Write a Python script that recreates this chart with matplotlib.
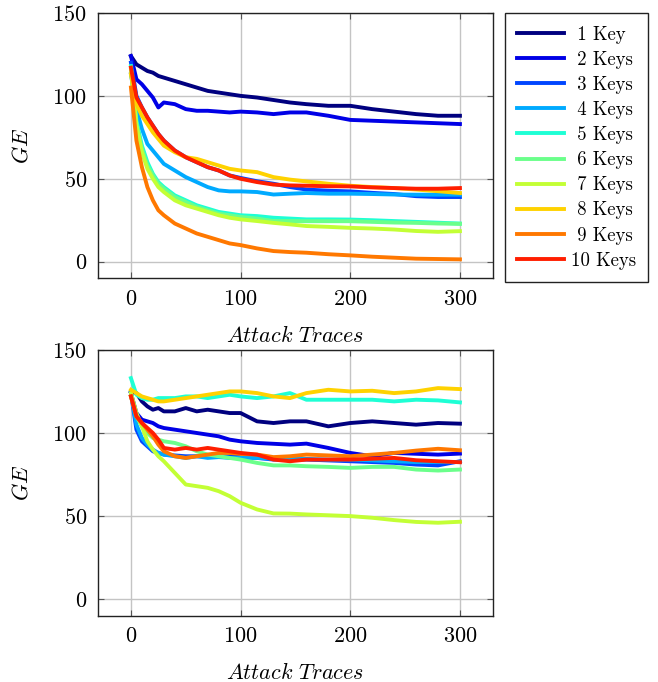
"""
GE vs attack traces, two panels, legend on the right of the top panel.
"""
import numpy as np
import matplotlib
matplotlib.use('Agg')
import matplotlib.pyplot as plt

plt.rcParams['font.family'] = ['cmr10', 'DejaVu Serif']
plt.rcParams['mathtext.fontset'] = 'cm'
plt.rcParams['axes.formatter.use_mathtext'] = True

# attack traces where the curves were read
traces = [0, 5, 10, 15, 20, 25, 30, 40, 50, 60, 70, 80, 90, 100,
          115, 130, 145, 160, 180, 200, 220, 240, 260, 280, 300]

labels = ['1 Key', '2 Keys', '3 Keys', '4 Keys', '5 Keys',
          '6 Keys', '7 Keys', '8 Keys', '9 Keys', '10 Keys']
# a leading space so the legend text looks centred like pgfplots
legend_labels = [' 1 Key', ' 2 Keys', ' 3 Keys', ' 4 Keys', ' 5 Keys',
                 ' 6 Keys', ' 7 Keys', ' 8 Keys', ' 9 Keys', '10 Keys']

COLORS = ['#00007F', '#0000E6', '#0045FF', '#00AAFF', '#1EFFD5',
          '#6BFF8B', '#C3FF35', '#FFD200', '#FF7800', '#FF1E00']

# top panel
ge_top = {
    '1 Key':   [124, 119, 117, 115, 114, 112, 111, 109, 107, 105, 103, 102, 101, 100,
                99, 97.5, 96, 95, 94, 94, 92, 90.5, 89, 88, 88],
    '2 Keys':  [124, 110, 107, 103, 99, 93, 96, 95, 92, 91, 91, 90.5, 90, 90.5,
                90, 89, 90, 90, 88, 85.5, 85, 84.5, 84, 83.5, 83],
    '3 Keys':  [120, 100, 93, 87, 82, 77, 73, 67, 63, 60, 57, 55, 52, 50.5,
                48.5, 47, 45, 43.5, 42.8, 42.4, 41.5, 40.8, 39.5, 39, 39],
    '4 Keys':  [113, 92, 80, 71, 67, 63, 59, 55, 51, 48, 45, 43, 42.4, 42.4,
                42, 40.5, 41, 41.4, 41, 41, 40.8, 40.5, 40.4, 40.4, 40.4],
    '5 Keys':  [118, 85, 70, 60, 53, 48, 45, 40, 37, 34, 32, 30, 29, 28,
                27.5, 26.5, 26, 25.5, 25.5, 25.4, 25, 24.5, 24, 23.5, 23],
    '6 Keys':  [117, 83, 68, 58, 52, 47, 44, 39, 36, 33, 31, 29, 28, 27,
                26, 24.5, 24.5, 24.4, 24.4, 24.4, 24, 23.6, 23.4, 23, 22.8],
    '7 Keys':  [116, 82, 66, 56, 50, 45, 42, 37, 34, 32, 30, 28, 26.5, 25.5,
                24.5, 23.4, 22.5, 21.5, 21, 20.4, 20, 19.4, 18.5, 18, 18.4],
    '8 Keys':  [113, 95, 88, 83, 78, 74, 70, 66, 63, 62, 60, 58, 56, 55,
                54, 51, 49.5, 48.4, 47, 45.8, 45, 44.4, 43.5, 42.5, 41.4],
    '9 Keys':  [105, 73, 57, 45, 37, 31, 28, 23, 20, 17, 15, 13, 11, 10,
                8, 6.4, 5.8, 5.4, 4.5, 3.8, 3, 2.4, 1.8, 1.6, 1.4],
    '10 Keys': [117, 99, 93, 87, 82, 77, 73, 67, 63, 60, 57, 55, 52, 50,
                48, 46.5, 46, 45.8, 45.5, 45.4, 44.8, 44.4, 44, 44, 44.4],
}

# bottom panel
ge_bottom = {
    '1 Key':   [125, 124, 119, 116, 114, 115, 113, 113, 115, 113, 114, 113, 112, 112,
                107, 106, 107, 107, 104, 106, 107, 106, 105, 106, 105.6],
    '2 Keys':  [124, 112, 108, 107, 106, 104, 103, 102, 101, 100, 99, 98, 96, 95,
                94, 93.5, 93, 93.6, 91, 88, 86, 88, 87.5, 87, 87.6],
    '3 Keys':  [124, 102, 95, 92, 89, 88, 87, 86.5, 86, 86, 86, 86, 86, 85.5,
                85, 84, 84, 84, 83.5, 83, 82.5, 82, 81, 80.5, 83],
    '4 Keys':  [124, 105, 97, 93, 90, 88, 87, 86, 85, 86, 85, 85.5, 85, 85,
                85, 84.5, 84.5, 84.4, 84, 84, 83.5, 83, 82.5, 82.5, 82.5],
    '5 Keys':  [133, 123, 121, 120, 120, 121, 121, 121, 122, 122, 121, 122, 123, 122,
                121, 122, 124, 120, 120, 120, 120, 119, 120, 119.6, 118.4],
    '6 Keys':  [122, 110, 104, 100, 97, 96, 95, 94, 92, 89, 87, 86, 85, 84,
                82, 80.5, 80.5, 80, 79.6, 79, 79.6, 79.6, 78, 77.4, 78],
    '7 Keys':  [124, 112, 104, 95, 90, 86, 83, 76, 69, 68, 67, 65, 62, 58,
                54, 51.6, 51.5, 51, 50.5, 50, 49, 47.6, 46.5, 46, 46.6],
    '8 Keys':  [126, 124, 122, 121, 120, 119, 119, 120, 121, 122, 123, 124, 125, 125,
                124, 122, 121, 124, 126, 125, 125.4, 124, 125, 127, 126.4],
    '9 Keys':  [122, 110, 106, 102, 98, 93, 89, 86, 85, 86, 87, 88, 88, 87.4,
                87, 85.5, 86, 87, 86.5, 86, 87, 88, 89.4, 90.5, 89.6],
    '10 Keys': [122, 110, 106, 103, 100, 96, 91, 90, 91, 90, 91, 90, 89, 88,
                87, 84, 83, 84, 84, 84, 84.5, 85, 83.6, 83, 82.4],
}

xticks = [0, 100, 200, 300]
yticks = [0, 50, 100, 150]


def style_axes(ax):
    ax.set_xlim(-30, 330)
    ax.set_ylim(-10, 150)
    ax.set_xticks(xticks)
    ax.set_yticks(yticks)
    ax.grid(True, color='#c4c4c4', linewidth=1.0)
    ax.set_axisbelow(True)
    ax.tick_params(direction='in', top=True, right=True, length=4,
                   width=0.8, color='#555555', labelsize=16, pad=8)
    for s in ax.spines.values():
        s.set_linewidth(1.0)
        s.set_color('#222222')
    ax.set_xlabel(r'$Attack\ Traces$', fontsize=16)
    ax.set_ylabel(r'$GE$', fontsize=16)
    ax.xaxis.set_label_coords(0.5, -0.175)
    ax.yaxis.set_label_coords(-0.168, 0.5)


fig = plt.figure(figsize=(6.58, 6.82), dpi=100)
ax1 = fig.add_axes([0.149, 0.592, 0.600, 0.389])
ax2 = fig.add_axes([0.149, 0.097, 0.600, 0.390])

for ax, data in [(ax1, ge_top), (ax2, ge_bottom)]:
    for lab, leg_lab, c in zip(labels, legend_labels, COLORS):
        ax.plot(traces, data[lab], color=c, linewidth=2.8, label=leg_lab,
                solid_joinstyle='round')
    style_axes(ax)

leg = ax1.legend(loc='upper left', bbox_to_anchor=(1.03, 1.0), borderaxespad=0,
                 fontsize=13.5, handlelength=2.5, handletextpad=0.35,
                 labelspacing=0.38, borderpad=0.67, fancybox=False,
                 framealpha=1, edgecolor='#222222')
leg.get_frame().set_linewidth(1.0)

fig.savefig('out.png', dpi=100)
